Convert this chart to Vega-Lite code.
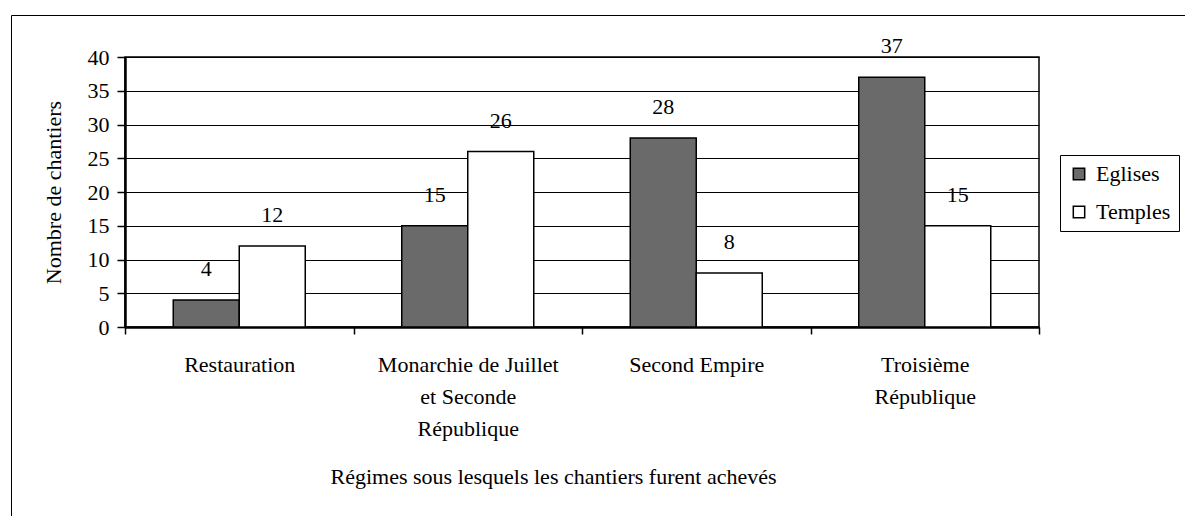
{
  "$schema": "https://vega.github.io/schema/vega-lite/v6.json",
  "width": 914,
  "height": 270,
  "autosize": {"type": "none"},
  "padding": {"left": 125, "top": 57, "right": 146, "bottom": 189},
  "background": "white",
  "config": {
    "font": "Liberation Serif",
    "view": {"stroke": "black", "strokeWidth": 1.5},
    "text": {"font": "Liberation Serif"},
    "axis": {"labelColor": "black", "titleColor": "black", "labelFont": "Liberation Serif", "titleFont": "Liberation Serif", "titleFontWeight": "normal"},
    "legend": {"labelFont": "Liberation Serif"}
  },
  "data": {
    "values": [
      {"regime": "Restauration", "type": "Eglises", "n": 4},
      {"regime": "Restauration", "type": "Temples", "n": 12},
      {"regime": "Monarchie de Juillet|et Seconde|République", "type": "Eglises", "n": 15},
      {"regime": "Monarchie de Juillet|et Seconde|République", "type": "Temples", "n": 26},
      {"regime": "Second Empire", "type": "Eglises", "n": 28},
      {"regime": "Second Empire", "type": "Temples", "n": 8},
      {"regime": "Troisième|République", "type": "Eglises", "n": 37},
      {"regime": "Troisième|République", "type": "Temples", "n": 15}
    ]
  },
  "encoding": {
    "x": {
      "field": "regime", "type": "nominal", "sort": null,
      "scale": {"paddingInner": 0, "paddingOuter": 0},
      "axis": {
        "title": "Régimes sous lesquels les chantiers furent achevés",
        "titleFontSize": 22, "titlePadding": 27, "titleX": 428,
        "labelExpr": "split(datum.label, '|')",
        "labelAngle": 0, "labelFontSize": 22, "labelLineHeight": 32, "labelPadding": 20,
        "labelLimit": 300,
        "tickBand": "extent", "tickSize": 7, "tickColor": "black", "tickWidth": 1.5,
        "domainColor": "black", "domainWidth": 2.5, "grid": false
      }
    },
    "xOffset": {"field": "type", "type": "nominal", "sort": ["Eglises", "Temples"], "scale": {"paddingInner": 0, "paddingOuter": 0.731}},
    "y": {
      "field": "n", "type": "quantitative",
      "scale": {"domain": [0, 40], "nice": false},
      "axis": {
        "title": "Nombre de chantiers", "titleFontSize": 22, "titlePadding": 22,
        "values": [0, 5, 10, 15, 20, 25, 30, 35, 40],
        "labelFontSize": 22, "labelPadding": 8,
        "tickSize": 8, "tickColor": "black", "tickWidth": 1.5,
        "domainColor": "black", "domainWidth": 2.5,
        "grid": true, "gridColor": "black", "gridWidth": 1.2
      }
    }
  },
  "layer": [
    {
      "mark": {"type": "bar", "stroke": "black", "strokeWidth": 1.5},
      "encoding": {
        "fill": {
          "field": "type", "type": "nominal",
          "scale": {"domain": ["Eglises", "Temples"], "range": ["#6a6a6a", "white"]},
          "legend": {
            "title": null, "orient": "none", "legendX": 935, "legendY": 98,
            "strokeColor": "black", "padding": 8,
            "symbolType": "square", "symbolSize": 130, "symbolStrokeColor": "black", "symbolStrokeWidth": 1.5,
            "labelFontSize": 22, "labelColor": "black", "rowPadding": 16, "labelOffset": 6
          }
        }
      }
    },
    {
      "mark": {"type": "text", "baseline": "bottom", "dy": -19, "fontSize": 22, "color": "black"},
      "encoding": {
        "text": {"field": "n", "type": "quantitative"},
        "opacity": {
          "field": "regime", "type": "nominal",
          "scale": {"range": [1, 1]},
          "legend": {
            "title": null, "orient": "none", "legendX": -114, "legendY": -42,
            "strokeColor": "black", "padding": 700,
            "symbolOpacity": 0, "labelExpr": "''",
            "encode": {"legend": {"update": {"strokeWidth": {"value": 2.5}}}}
          }
        }
      }
    }
  ]
}
